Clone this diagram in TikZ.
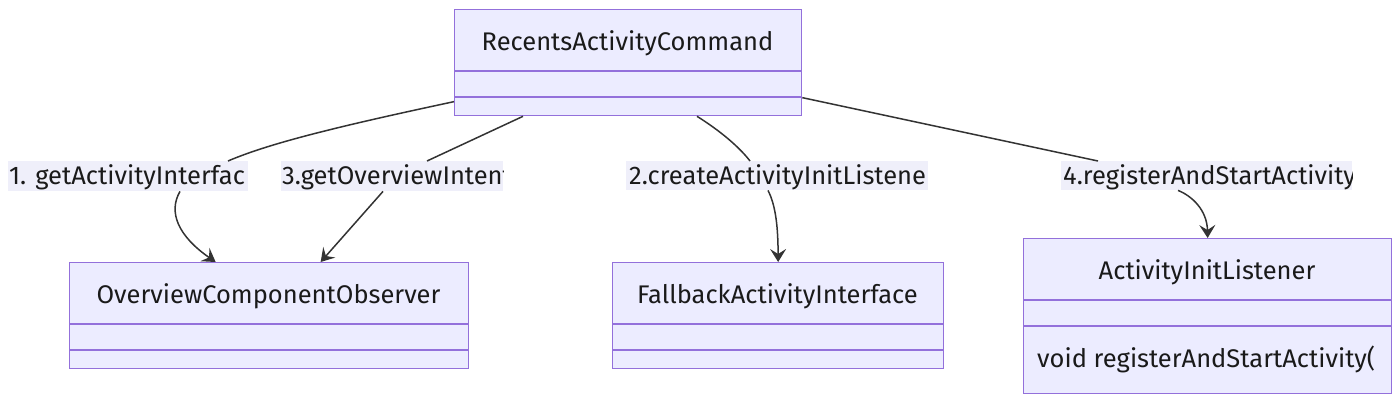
\documentclass[tikz,border=0pt]{standalone}
\usepackage{fontspec}
\setmainfont{Fira Sans}
\usetikzlibrary{arrows.meta,calc}
\definecolor{boxfill}{HTML}{ECECFF}
\definecolor{boxline}{HTML}{9370DB}
\definecolor{ink}{HTML}{333333}
\definecolor{txt}{HTML}{1A1A1A}
\definecolor{lblfill}{HTML}{EFEFFA}
\tikzset{
  classbox/.style={draw=boxline, fill=boxfill, line width=1.3pt, inner sep=0pt, rectangle},
  ttl/.style={text=txt, font=\fontsize{25.5}{28}\selectfont, inner sep=0pt},
  lblbg/.style={fill=lblfill, draw=none, inner sep=0pt, anchor=north west},
  lbltxt/.style={text=txt, font=\fontsize{25.5}{28}\selectfont, inner sep=0pt, anchor=west},
  conn/.style={draw=ink, line width=1.5pt, -{Stealth[length=13pt, width=16pt, inset=5pt]}},
  seg/.style={draw=ink, line width=1.5pt}
}
\begin{document}
\begin{tikzpicture}[x=1pt,y=-1pt]
\useasboundingbox (0,0) rectangle (1400,402);
% class boxes
\node[classbox, minimum width=347pt, minimum height=106pt, anchor=north west] (rac) at (454,9) {};
\node[ttl] (racT) at (627.5,43) {RecentsActivityCommand};
\draw[boxline, line width=1.3pt] (454,71) -- (801,71) (454,97) -- (801,97);

\node[classbox, minimum width=399pt, minimum height=106pt, anchor=north west] (oco) at (69,262) {};
\node[ttl] (ocoT) at (268.5,296) {OverviewComponentObserver};
\draw[boxline, line width=1.3pt] (69,324) -- (468,324) (69,350) -- (468,350);

\node[classbox, minimum width=331pt, minimum height=106pt, anchor=north west] (fai) at (612,262) {};
\node[ttl] (faiT) at (777.5,296) {FallbackActivityInterface};
\draw[boxline, line width=1.3pt] (612,324) -- (943,324) (612,350) -- (943,350);

\node[classbox, minimum width=368pt, minimum height=155pt, anchor=north west] (ail) at (1023,238) {};
\node[ttl] (ailT) at (1207,272) {ActivityInitListener};
\draw[boxline, line width=1.3pt] (1023,300) -- (1391,300) (1023,326) -- (1391,326);
\begin{scope}
\clip (1030,330) rectangle (1388,390);
\node[lbltxt] (ailM) at (1037,359) {void registerAndStartActivity(};
\end{scope}

% edge labels
\node[lblbg, minimum width=240pt, minimum height=30pt] (l1) at (8,161) {};
\begin{scope}
\clip (8,161) rectangle (248,191);
\node[lbltxt] (l1t) at (9,177) {1. getActivityInterfac};
\end{scope}
\node[lblbg, minimum width=222pt, minimum height=30pt] (l3) at (281,161) {};
\begin{scope}
\clip (281,161) rectangle (503,191);
\node[lbltxt] (l3t) at (282,177) {3.getOverviewIntent};
\end{scope}
\node[lblbg, minimum width=302pt, minimum height=29pt] (l2) at (626,161) {};
\begin{scope}
\clip (626,161) rectangle (928,190);
\node[lbltxt] (l2t) at (629,177) {2.createActivityInitListene};
\end{scope}
\node[lblbg, minimum width=291pt, minimum height=29pt] (l4) at (1061,161) {};
\begin{scope}
\clip (1061,161) rectangle (1352,190);
\node[lbltxt] (l4t) at (1063,177) {4.registerAndStartActivity};
\end{scope}

% connectors
\draw[seg] ([yshift=-39pt]rac.west) .. controls (340,126) and (270,143) .. ([xshift=220pt]l1.north west);
\draw[conn] ([xshift=172pt]l1.south west) .. controls (168,212) and (178,236) .. ([xshift=-268.5+215]oco.north);
\draw[seg] ([xshift=69pt]rac.south west) -- ([xshift=146pt]l3.north west);
\draw[conn] ([xshift=102pt]l3.south west) -- ([xshift=-268.5+320]oco.north);
\draw[seg] ([xshift=243pt]rac.south west) .. controls (722,132) and (740,148) .. ([xshift=124pt]l2.north west);
\draw[conn] ([xshift=142pt]l2.south west) .. controls (776,206) and (778,228) .. (fai.north);
\draw[seg] ([yshift=-35pt]rac.east) -- ([xshift=37pt]l4.north west);
\draw[conn] ([xshift=117pt]l4.south west) .. controls (1192,196) and (1207,210) .. (ail.north);
\end{tikzpicture}
\end{document}
